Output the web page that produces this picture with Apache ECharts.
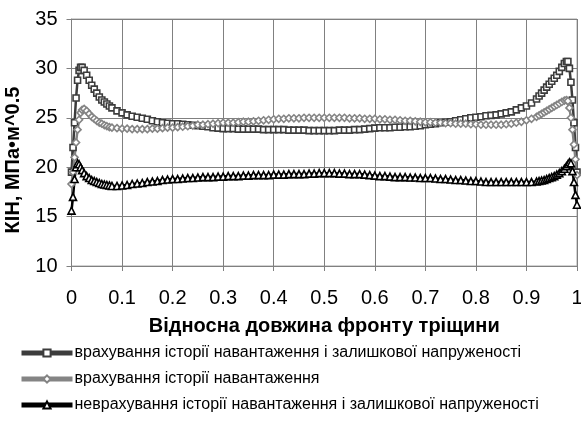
<!DOCTYPE html>
<html>
<head>
<meta charset="utf-8">
<script src="https://cdn.jsdelivr.net/npm/echarts@6/dist/echarts.min.js"></script>
<style>html,body{margin:0;padding:0;background:#fff}#c{width:581px;height:424px}</style>
</head>
<body>
<div id="c"></div>
<script>
const xPos = [
  0,0.003,0.006,0.009,0.012,0.015,0.018,0.021,0.025,0.03,0.035,0.04,0.045,0.05,0.055,0.06,0.065,0.07,0.075,0.08,
  0.09,0.10,0.11,0.12,0.13,0.14,0.15,0.16,0.17,0.18,
  0.19,0.20,0.21,0.22,0.23,0.24,0.25,0.26,0.27,0.28,
  0.29,0.30,0.31,0.32,0.33,0.34,0.35,0.36,0.37,0.38,
  0.39,0.40,0.41,0.42,0.43,0.44,0.45,0.46,0.47,0.48,
  0.49,0.50,0.51,0.52,0.53,0.54,0.55,0.56,0.57,0.58,
  0.59,0.60,0.61,0.62,0.63,0.64,0.65,0.66,0.67,0.68,
  0.69,0.70,0.71,0.72,0.73,0.74,0.75,0.76,0.77,0.78,
  0.79,0.80,0.81,0.82,0.83,0.84,0.85,0.86,0.87,0.88,
  0.89,0.90,
  0.91,0.92,0.925,0.93,0.935,0.94,0.945,0.95,0.955,0.96,0.965,0.97,0.975,0.979,0.982,0.985,0.988,0.991,0.994,0.997,1
];
const kFull = [
  19.5,22.0,24.5,27.0,28.8,29.8,30.1,30.1,29.8,29.3,28.8,28.3,27.9,27.5,27.1,26.8,26.6,26.4,26.2,26.0,
  25.7,25.5,25.3,25.15,25.05,24.95,24.85,24.7,24.6,24.5,
  24.45,24.4,24.4,24.35,24.3,24.25,24.2,24.15,24.1,24.0,
  23.95,23.9,23.9,23.9,23.85,23.85,23.85,23.85,23.85,23.8,
  23.8,23.8,23.8,23.8,23.75,23.75,23.75,23.75,23.7,23.7,
  23.7,23.7,23.7,23.7,23.75,23.75,23.75,23.8,23.8,23.85,
  23.9,23.95,24.0,24.0,24.0,24.05,24.05,24.1,24.1,24.15,
  24.2,24.3,24.35,24.4,24.5,24.55,24.6,24.7,24.8,24.9,
  25.0,25.05,25.1,25.2,25.25,25.3,25.4,25.5,25.6,25.8,
  26.0,26.2,
  26.5,26.9,27.2,27.5,27.8,28.1,28.4,28.7,29.0,29.3,29.7,30.1,30.5,30.7,30.7,30.0,28.6,26.8,24.5,22.0,19.5
];
const kHistory = [
  18.3,19.5,21.0,22.5,23.8,24.8,25.5,25.8,25.9,25.7,25.4,25.1,24.9,24.7,24.5,24.4,24.25,24.15,24.05,24.0,
  23.95,23.9,23.9,23.85,23.85,23.85,23.85,23.9,23.9,23.95,
  24.0,24.0,24.05,24.1,24.15,24.2,24.3,24.3,24.35,24.4,
  24.45,24.5,24.5,24.5,24.55,24.6,24.6,24.65,24.7,24.75,
  24.8,24.85,24.9,24.9,24.95,24.95,24.95,25.0,25.0,25.0,
  25.0,25.0,25.0,25.0,25.0,25.0,24.95,24.95,24.95,24.9,
  24.9,24.9,24.85,24.85,24.8,24.8,24.75,24.7,24.7,24.65,
  24.6,24.55,24.55,24.5,24.5,24.45,24.45,24.4,24.4,24.4,
  24.35,24.35,24.3,24.3,24.3,24.3,24.3,24.35,24.4,24.5,
  24.6,24.75,
  24.9,25.1,25.25,25.4,25.55,25.7,25.85,26.0,26.15,26.3,26.45,26.6,26.75,26.8,26.7,26.0,25.0,23.8,22.3,20.8,19.2
];
const kNone = [
  15.6,17.0,18.8,20.0,20.4,20.3,20.0,19.7,19.4,19.1,18.9,18.7,18.6,18.5,18.4,18.3,18.25,18.2,18.15,18.1,
  18.1,18.15,18.2,18.3,18.35,18.4,18.5,18.55,18.6,18.7,
  18.75,18.8,18.8,18.85,18.9,18.9,18.95,19.0,19.0,19.0,
  19.05,19.05,19.1,19.1,19.1,19.15,19.15,19.2,19.2,19.2,
  19.2,19.25,19.25,19.25,19.3,19.3,19.3,19.3,19.35,19.35,
  19.4,19.4,19.4,19.4,19.35,19.35,19.3,19.3,19.3,19.25,
  19.2,19.15,19.1,19.1,19.05,19.0,19.0,19.0,18.95,18.95,
  18.9,18.9,18.9,18.85,18.8,18.8,18.75,18.7,18.7,18.65,
  18.6,18.6,18.55,18.5,18.5,18.5,18.5,18.5,18.5,18.5,
  18.5,18.5,
  18.5,18.55,18.6,18.65,18.7,18.8,18.9,19.0,19.1,19.25,19.4,19.6,19.85,20.1,20.3,20.5,20.4,19.6,18.5,17.2,16.2
];
const seriesNames = [
  'врахування історії навантаження і залишкової напруженості',
  'врахування історії навантаження',
  'неврахування історії навантаження і залишкової напруженості'
];
const xTitle = 'Відносна довжина фронту тріщини';
const yTitle = 'КІН, МПа•м^0.5';

[kFull, kHistory, kNone].forEach((a, i) => {
  if (a.length !== xPos.length) throw new Error('length mismatch in series ' + i + ': ' + a.length + ' vs ' + xPos.length);
});

const FONT = '"Liberation Sans", Arial, sans-serif';
const pts = arr => xPos.map((x, i) => [x, arr[i]]);

const chart = echarts.init(document.getElementById('c'), null, {renderer: 'canvas'});
const mk = (name, data, color, symbol, size) => ({
  name, type: 'line', data: pts(data),
  symbol, symbolSize: size,
  showAllSymbol: true,
  lineStyle: {color, width: 2.5},
  itemStyle: {color: '#ffffff', borderColor: color, borderWidth: 1.6},
  emphasis: {disabled: true},
  animation: false
});
chart.setOption({
  animation: false,
  grid: {left: 71.5, right: 4, top: 19, bottom: 158, show: true, borderColor: '#a6a6a6', borderWidth: 1,
    containLabel: false, outerBoundsMode: 'none'},
  xAxis: {
    type: 'value', min: 0, max: 1, interval: 0.1,
    name: xTitle, nameLocation: 'middle', nameGap: 50,
    nameTextStyle: {fontFamily: FONT, fontSize: 20, fontWeight: 'bold', color: '#000'},
    axisLine: {show: true, onZero: false, lineStyle: {color: '#808080', width: 1}},
    axisTick: {show: true, length: 5, inside: false, lineStyle: {color: '#808080'}},
    axisLabel: {fontFamily: FONT, fontSize: 20, color: '#000', margin: 22,
      formatter: v => String(Math.round(v * 10) / 10)},
    splitLine: {show: true, lineStyle: {color: '#808080', width: 1}}
  },
  yAxis: {
    type: 'value', min: 10, max: 35, interval: 5,
    name: yTitle, nameLocation: 'middle', nameGap: 48, nameRotate: 90,
    nameTextStyle: {fontFamily: FONT, fontSize: 20, fontWeight: 'bold', color: '#000', padding: [0, 35, 0, 0]},
    axisLine: {show: true, lineStyle: {color: '#808080', width: 1}},
    axisTick: {show: true, length: 5, lineStyle: {color: '#808080'}},
    axisLabel: {fontFamily: FONT, fontSize: 20, color: '#000', margin: 14},
    splitLine: {show: true, lineStyle: {color: '#808080', width: 1}}
  },
  legend: {
    orient: 'vertical', left: 14, top: 340,
    itemWidth: 51, itemHeight: 9, itemGap: 10,
    textStyle: {fontFamily: FONT, fontSize: 16, color: '#000', padding: [0, 0, 0, -3]},
    data: seriesNames.map(n => ({name: n, lineStyle: {width: 5}}))
  },
  series: [
    mk(seriesNames[0], kFull, '#3c3c3c', 'rect', 6),
    mk(seriesNames[1], kHistory, '#848484', 'diamond', 7),
    mk(seriesNames[2], kNone, '#000000', 'triangle', 7)
  ]
});
</script>
</body>
</html>
